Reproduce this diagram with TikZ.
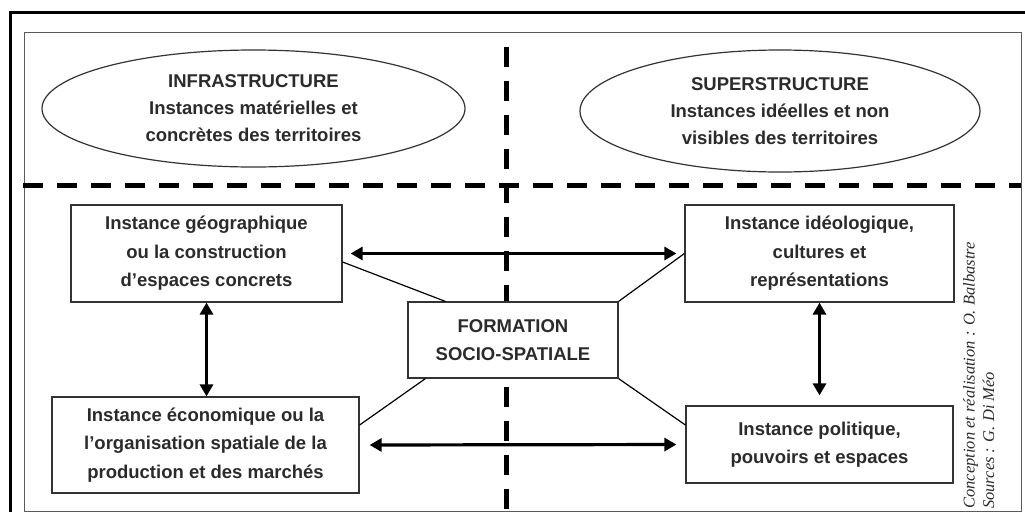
\documentclass[tikz,border=0pt]{standalone}
\usepackage{fontspec}
\setmainfont{Liberation Sans}
\newfontfamily\creditfont{Liberation Serif}
\usepackage{xcolor}
\definecolor{ink}{HTML}{2B2B2B}
\definecolor{linegray}{HTML}{333333}
\definecolor{framegray}{HTML}{5A5A5A}
\usepackage{tikz}
\usetikzlibrary{shapes.geometric, arrows.meta}
\tikzset{
  ibox/.style ={rectangle, draw=linegray, line width=1.2pt, fill=white, text=ink, align=center,
                inner sep=0pt, font=\fontsize{18.5}{28.5}\selectfont\bfseries},
  ioval/.style={ellipse, draw=linegray, line width=1.2pt, fill=white, text=ink, align=center,
                inner sep=0pt, font=\fontsize{18.5}{27}\selectfont\bfseries},
  darr/.style ={{Triangle[length=12pt,width=13pt]}-{Triangle[length=12pt,width=13pt]}, line width=3.2pt, color=black},
  tie/.style  ={line width=1.2pt, color=black},
  sepline/.style={line width=5pt, dash pattern=on 20pt off 14pt, color=black},
}

\begin{document}
\begin{tikzpicture}[x=1pt, y=-1pt]
  \useasboundingbox (0,0) rectangle (1025,512);
  \draw[line width=3pt] (1025,12) -| (10,512);
  \draw[framegray, line width=1pt] (24,32) rectangle (1021,511);
  \draw[sepline] (23,185) -- (1021,185);
  \draw[sepline] (506,47) -- (506,511);
  \node[ioval, minimum width=423pt, minimum height=117pt] (infra) at (253.5,108.5) {INFRASTRUCTURE\\Instances matérielles et\\concrètes des territoires};
  \node[ioval, minimum width=400pt, minimum height=122pt] (super) at (780,111) {SUPERSTRUCTURE\\Instances idéelles et non\\visibles des territoires};
  \node[ibox, minimum width=271pt, minimum height=97pt] (geo) at (206.5,253.5) {Instance géographique\\ou la construction\\d’espaces concrets};
  \node[ibox, minimum width=307pt, minimum height=96pt] (eco) at (205.5,445) {Instance économique ou la\\l’organisation spatiale de la\\production et des marchés};
  \node[ibox, minimum width=269pt, minimum height=97pt] (ideo) at (819.5,253.5) {Instance idéologique,\\cultures et\\représentations};
  \node[ibox, minimum width=267pt, minimum height=77pt] (poli) at (819.5,444.5) {Instance politique,\\pouvoirs et espaces};
  \node[ibox, minimum width=210pt, minimum height=76pt] (form) at (513,340) {FORMATION\\SOCIO-SPATIALE};
  \draw[tie] ([yshift=-8.5pt]geo.east) -- ([xshift=38pt]form.north west);
  \draw[tie] (ideo.west) -- (form.north east);
  \draw[tie] ([xshift=18pt]form.south west) -- ([yshift=20pt]eco.east);
  \draw[tie] (form.south east) -- ([yshift=19.5pt]poli.west);
  \draw[darr, shorten <=8pt, shorten >=8pt] (geo) -- (ideo);
  \draw[darr, shorten <=10pt, shorten >=9pt] (eco.east) -- (poli.west);
  \draw[darr] (geo.south) -- (geo.south |- eco.north);
  \draw[darr, shorten >=10pt] (ideo.south) -- (ideo.south |- poli.north);
  \node[rotate=90, anchor=north west, align=left, inner sep=0pt, text=ink,
        font=\creditfont\itshape\fontsize{16.5}{19.5}\selectfont] (credit) at (963,509)
        {Conception et réalisation : O. Balbastre\\Sources : G. Di Méo};
\end{tikzpicture}
\end{document}
